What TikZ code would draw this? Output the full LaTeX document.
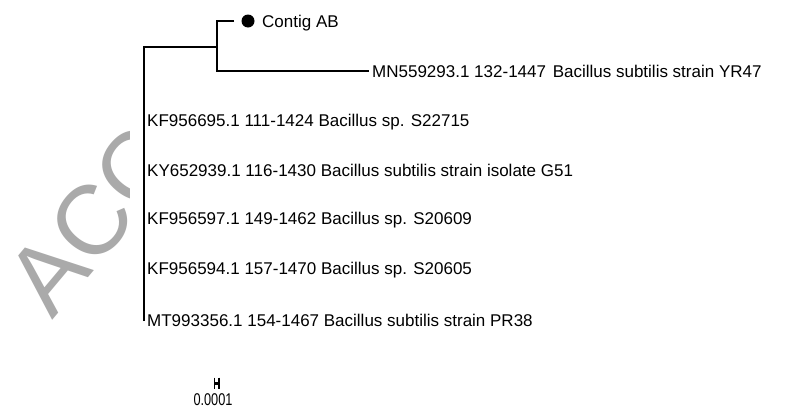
\documentclass[tikz,border=0pt]{standalone}
\usepackage{fontspec}
\setmainfont{Liberation Sans}
\definecolor{wmgray}{RGB}{170,170,170}
\begin{document}
\begin{tikzpicture}[x=1pt,y=-1pt,
  branch/.style={line width=2pt,black},
  leaflabel/.style={anchor=base west,inner sep=0pt,font=\fontsize{17}{17}\selectfont},
  wmark/.style={anchor=base west,inner sep=0pt,text=wmgray,rotate=50,font=\fontsize{98}{98}\selectfont},
  tip/.style={circle,fill=black,inner sep=0pt,minimum size=13pt}]
\useasboundingbox[fill=white] (0,0) rectangle (785,410);
% watermark
\begin{scope}
\clip (0,0) rectangle (129,410);
\node[wmark] (wm) at (52,321) {ACC};
\end{scope}
% tree nodes
\coordinate (root) at (144,47);
\coordinate (rootbot) at (144,321);
\coordinate (inner) at (217,47);
\coordinate (innertop) at (217,21);
\coordinate (innerbot) at (217,71);
\coordinate (tipA) at (234,21);
\node[tip] (dot) at (248,21) {};
\coordinate (tipB) at (369,71);
% branches
\draw[branch] (rootbot) -- (root) -- (inner);
\draw[branch] (tipA) -- (innertop) -- (innerbot) -- (tipB);
% labels
\node[leaflabel] (lA) at (262,27.1) {Contig AB};
\node[leaflabel] (lB) at (372,77.1) {MN559293.1 132-1447 \hspace{2pt}Bacillus subtilis strain YR47};
\node[leaflabel] (l1) at (147,126.1) {KF956695.1 111-1424 Bacillus sp. S22715};
\node[leaflabel] (l2) at (147,176.1) {KY652939.1 116-1430 Bacillus subtilis strain isolate G51};
\node[leaflabel] (l3) at (147,224.1) {KF956597.1 149-1462 Bacillus sp. S20609};
\node[leaflabel] (l4) at (147,274.1) {KF956594.1 157-1470 Bacillus sp. S20605};
\node[leaflabel] (l5) at (147,326.1) {MT993356.1 154-1467 Bacillus subtilis strain PR38};
% scale bar
\coordinate (sbL) at (214.5,383);
\coordinate (sbR) at (219,383);
\draw[line width=1.5pt] (214.5,377.5) -- (214.5,388.5) (219,377.5) -- (219,388.5);
\draw[line width=3pt] (sbL) -- (sbR);
\node[inner sep=0pt,anchor=base,xscale=0.75,font=\fontsize{17}{17}\selectfont] (sblab) at (213,405) {0.0001};
\end{tikzpicture}
\end{document}
